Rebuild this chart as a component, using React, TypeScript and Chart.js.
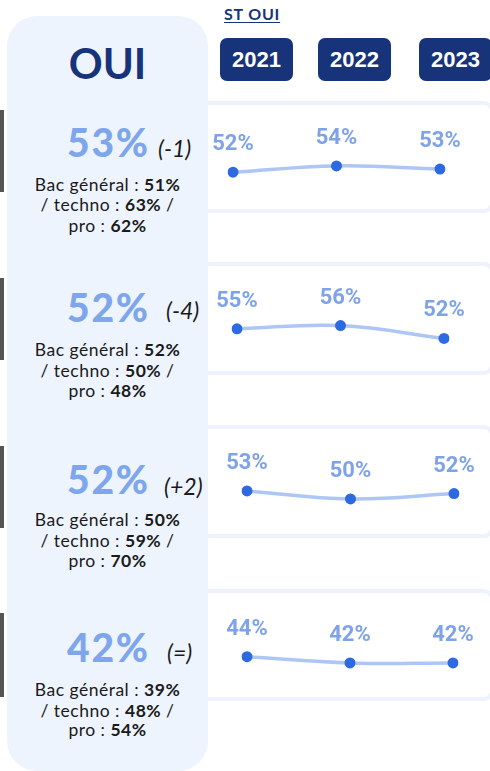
import React, { useEffect, useRef } from "react";
import { Chart, registerables } from "chart.js";

Chart.register(...registerables);

// ---------- data ----------
const years = ["2021", "2022", "2023"];
const headerTitle = "OUI";
const headerLink = "ST OUI";
const rowTotals = [53, 52, 52, 42];
const rowDeltas = ["(-1)", "(-4)", "(+2)", "(=)"];
const bacGeneral = [51, 52, 50, 39];
const bacTechno = [63, 50, 59, 48];
const bacPro = [62, 48, 70, 54];
const series1 = [52, 54, 53];
const series2 = [55, 56, 52];
const series3 = [53, 50, 52];
const series4 = [44, 42, 42];
const allSeries = [series1, series2, series3, series4];

// ---------- layout (positions / styles only) ----------
const NAVY = "#17337a";
const LIGHT = "#eef4fd";
const BAND = "#edf2fc";
const BIGBLUE = "#7ea6ec";
const LABELBLUE = "#7fa3e8";
const POINT = "#2d69e0";
const LINE = "#aec6f3";

const cardBoxes = [
  { top: 101, bottom: 213 },
  { top: 262, bottom: 375 },
  { top: 425, bottom: 538 },
  { top: 589, bottom: 701 },
];
const chartLayout = [
  { top: 105, height: 104, padL: 25, padR: 50, min: 42.0, max: 71.71 },
  { top: 266, height: 105, padL: 29, padR: 46, min: 43.6, max: 72.78 },
  { top: 429, height: 105, padL: 39, padR: 36, min: 39, max: 74 },
  { top: 593, height: 104, padL: 39, padR: 37, min: 32.86, max: 62.57 },
];
const sideBars = [
  [110, 192],
  [278, 360],
  [446, 528],
  [613, 697],
];
const bigBase = [158, 323, 495, 663];
const deltaLeft = [158, 166, 164, 167];
const deltaBase = [157, 319, 495, 661];
const lineBase = [
  [192, 212, 233],
  [357, 378, 398],
  [527, 548, 568],
  [697, 718, 737],
];
const yearBoxLeft = [220, 318, 419];

const LATO_K = 0.887;

function T(props: {
  x: number;
  y: number;
  size: number;
  k?: number;
  width?: number;
  align?: "left" | "center";
  family?: string;
  weight?: number;
  italic?: boolean;
  color?: string;
  ls?: number;
  underline?: boolean;
  children: React.ReactNode;
}) {
  const k = props.k ?? LATO_K;
  return (
    <div
      style={{
        position: "absolute",
        left: props.x,
        top: props.y - props.size * k,
        width: props.width,
        textAlign: props.align ?? "left",
        fontFamily: props.family ?? "Lato",
        fontSize: props.size,
        lineHeight: `${props.size}px`,
        fontWeight: props.weight ?? 400,
        fontStyle: props.italic ? "italic" : "normal",
        color: props.color ?? "#1a1a1a",
        letterSpacing: props.ls ?? 0,
        textDecoration: props.underline ? "underline" : "none",
        textUnderlineOffset: 2,
        whiteSpace: "nowrap",
      }}
    >
      {props.children}
    </div>
  );
}

const labelPlugin = {
  id: "pointLabels",
  afterDatasetsDraw(chart: any) {
    const ctx = chart.ctx;
    const meta = chart.getDatasetMeta(0);
    const data = chart.data.datasets[0].data as number[];
    ctx.save();
    ctx.font = "700 22px Roboto";
    ctx.fillStyle = LABELBLUE;
    ctx.textAlign = "center";
    ctx.textBaseline = "alphabetic";
    meta.data.forEach((pt: any, i: number) => {
      ctx.fillText(`${data[i]}%`, pt.x, pt.y - 22);
    });
    ctx.restore();
  },
};

function RowChart({ values, cfg }: { values: number[]; cfg: any }) {
  const ref = useRef<HTMLCanvasElement | null>(null);
  useEffect(() => {
    if (!ref.current) return;
    const chart = new Chart(ref.current, {
      type: "line",
      data: {
        labels: years,
        datasets: [
          {
            data: values,
            borderColor: LINE,
            borderWidth: 3.5,
            tension: 0.4,
            pointRadius: 5.5,
            pointBackgroundColor: POINT,
            pointBorderColor: POINT,
            pointBorderWidth: 0,
            fill: false,
          },
        ],
      },
      options: {
        animation: false,
        responsive: false,
        devicePixelRatio: 1,
        layout: { padding: { left: cfg.padL, right: cfg.padR, top: 0, bottom: 0 } },
        scales: {
          x: { type: "category", display: false, offset: false },
          y: { display: false, min: cfg.min, max: cfg.max },
        },
        plugins: { legend: { display: false }, tooltip: { enabled: false } },
        events: [],
      },
      plugins: [labelPlugin],
    } as any);
    return () => chart.destroy();
  }, []);
  return (
    <canvas
      ref={ref}
      width={282}
      height={cfg.height}
      style={{ position: "absolute", left: 208, top: cfg.top, width: 282, height: cfg.height }}
    />
  );
}

export default function App() {
  return (
    <div
      style={{
        position: "absolute",
        left: 0,
        top: 0,
        width: 490,
        height: 771,
        overflow: "hidden",
        background: "#ffffff",
      }}
    >
      {/* cards */}
      {cardBoxes.map((c, i) => (
        <div
          key={"card" + i}
          style={{
            position: "absolute",
            left: 190,
            top: c.top,
            width: 304,
            height: c.bottom - c.top,
            boxSizing: "border-box",
            border: `4px solid ${BAND}`,
            borderRadius: 10,
            background: "#fff",
          }}
        />
      ))}
      {/* left panel */}
      <div
        style={{
          position: "absolute",
          left: 7,
          top: 16,
          width: 201,
          height: 755,
          background: LIGHT,
          borderRadius: 30,
        }}
      />
      {sideBars.map((b, i) => (
        <div
          key={"sb" + i}
          style={{ position: "absolute", left: 0, top: b[0], width: 4, height: b[1] - b[0], background: "#555555" }}
        />
      ))}
      {/* header */}
      <T x={7} width={201} align="center" y={79} size={42} weight={700} color={NAVY}>
        {headerTitle}
      </T>
      <T x={224} y={20} size={16} weight={700} color={NAVY} ls={0.8} underline>
        {headerLink}
      </T>
      {years.map((y, i) => (
        <div
          key={y}
          style={{
            position: "absolute",
            left: yearBoxLeft[i],
            top: 38,
            width: 73,
            height: 43,
            borderRadius: 7,
            background: NAVY,
            color: "#fff",
            fontFamily: "Liberation Sans",
            fontWeight: 700,
            fontSize: 22,
            display: "flex",
            alignItems: "center",
            justifyContent: "center",
          }}
        >
          {y}
        </div>
      ))}
      {/* rows left text */}
      {rowTotals.map((v, i) => (
        <React.Fragment key={"row" + i}>
          <T x={67} y={bigBase[i]} size={39} weight={900} color={BIGBLUE} ls={1.8}>
            {v}%
          </T>
          <T x={deltaLeft[i]} y={deltaBase[i]} size={23} italic color="#1a1a1a">
            {rowDeltas[i]}
          </T>
          <T x={7} width={201} align="center" y={lineBase[i][0]} size={17.5} ls={0.5}>
            Bac général : <b>{bacGeneral[i]}%</b>
          </T>
          <T x={7} width={201} align="center" y={lineBase[i][1]} size={17.5} ls={0.5}>
            / techno : <b>{bacTechno[i]}%</b> /
          </T>
          <T x={7} width={201} align="center" y={lineBase[i][2]} size={17.5} ls={0.5}>
            pro : <b>{bacPro[i]}%</b>
          </T>
        </React.Fragment>
      ))}
      {/* charts */}
      {allSeries.map((s, i) => (
        <RowChart key={"c" + i} values={s} cfg={chartLayout[i]} />
      ))}
    </div>
  );
}
